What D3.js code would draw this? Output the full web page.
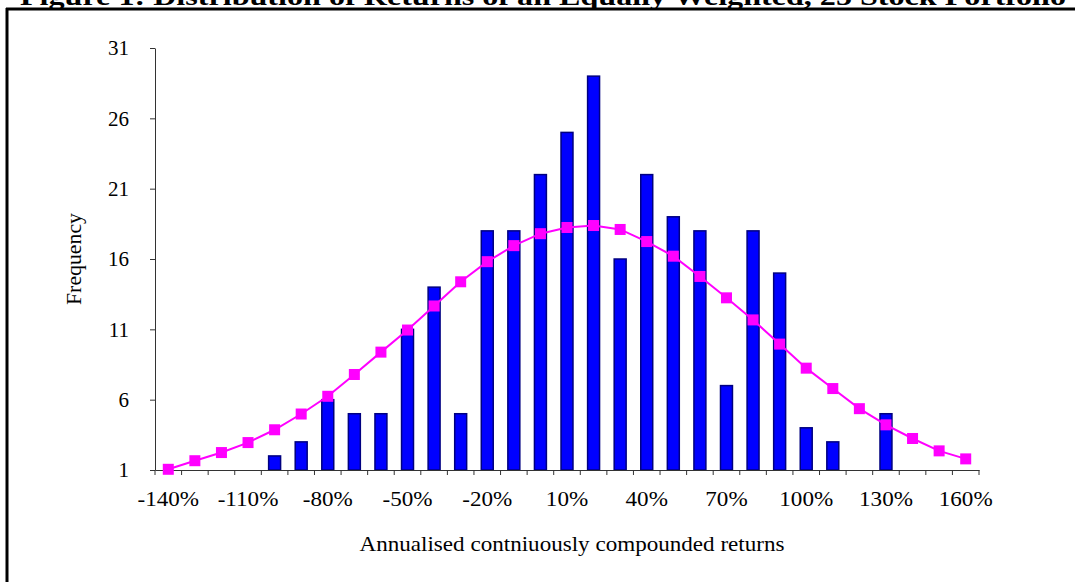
<!DOCTYPE html>
<html>
<head>
<meta charset="utf-8">
<script src="https://cdn.jsdelivr.net/npm/d3@7"></script>
<style>
  body { margin: 0; background: #fff; }
  svg { display: block; font-family: "Liberation Serif", "Times New Roman", serif; }
</style>
</head>
<body>
<svg id="chart" width="1075" height="582"></svg>
<script>
// returns buckets, -140% .. 160% in steps of 10
const returns = d3.range(-140, 161, 10);
// observed frequency per bucket
const observed = [0, 0, 0, 0, 2, 3, 6, 5, 5, 11, 14, 5, 18, 18, 22, 25, 29, 16, 22, 19,
                  18, 7, 18, 15, 4, 3, 0, 5, 0, 0, 0];
// fitted normal frequency per bucket
const fitted = [1.05, 1.66, 2.24, 2.95, 3.86, 4.98, 6.24, 7.79, 9.38, 10.95, 12.66, 14.38,
                15.81, 16.95, 17.8, 18.24, 18.38, 18.1, 17.24, 16.2, 14.76, 13.24, 11.67,
                9.95, 8.24, 6.79, 5.36, 4.21, 3.24, 2.36, 1.79];
const yTicks = [1, 6, 11, 16, 21, 26, 31];
const xLabels = [-140, -110, -80, -50, -20, 10, 40, 70, 100, 130, 160];

const svg = d3.select('#chart');

const plotLeft = 155, plotRight = 979, plotTop = 48, plotBottom = 470;

let x = d3.scaleBand()
  .domain(returns)
  .range([plotLeft, plotRight])
  .paddingInner(0.55)
  .paddingOuter(0.275);

let y = d3.scaleLinear()
  .domain([1, 31])
  .range([plotBottom, plotTop]);

// frame: title rule and left edge
svg.append('line')
  .attr('x1', 6).attr('x2', 1075).attr('y1', 9).attr('y2', 9)
  .attr('stroke', '#000').attr('stroke-width', 3);
svg.append('line')
  .attr('x1', 7).attr('x2', 7).attr('y1', 8).attr('y2', 582)
  .attr('stroke', '#000').attr('stroke-width', 3);

// title, mostly cut off by the top of the page
svg.append('text')
  .attr('x', 20).attr('y', 5)
  .attr('font-size', 26)
  .attr('font-weight', 'bold')
  .attr('textLength', 1046)
  .attr('lengthAdjust', 'spacingAndGlyphs')
  .text('Figure 1: Distribution of Returns of an Equally Weighted, 25 Stock Portfolio');

// bars
svg.append('g').selectAll('rect').data(returns).enter()
  .append('rect')
    .attr('x', d => x(d))
    .attr('width', x.bandwidth())
    .attr('y', (d, i) => y(Math.max(observed[i], 1)))
    .attr('height', (d, i) => y(1) - y(Math.max(observed[i], 1)))
    .attr('fill', '#0000ff')
    .attr('stroke', '#000080')
    .attr('stroke-width', 1.5);

// y axis
let yAxis = svg.append('g')
  .attr('transform', `translate(${plotLeft},0)`)
  .call(d3.axisLeft(y).tickValues(yTicks).tickSize(5).tickSizeOuter(0).tickPadding(21));

// x axis: line, boundary ticks, every third label
let xAxis = svg.append('g')
  .attr('transform', `translate(0,${plotBottom})`)
  .call(d3.axisBottom(x).tickValues(xLabels).tickSize(0).tickSizeOuter(0).tickPadding(21)
    .tickFormat(d => d + '%'));

xAxis.selectAll('.boundary')
  .data(d3.range(returns.length + 1))
  .enter().append('line')
    .attr('class', 'boundary')
    .attr('x1', i => plotLeft + i * x.step())
    .attr('x2', i => plotLeft + i * x.step())
    .attr('y1', 0).attr('y2', 5)
    .attr('stroke', '#333');

[yAxis, xAxis].forEach(function(a) {
  a.select('.domain').attr('stroke', '#333');
  a.selectAll('.tick line').attr('stroke', '#333');
  a.selectAll('text')
    .attr('font-family', '"Liberation Serif", "Times New Roman", serif')
    .attr('font-size', 21)
    .attr('fill', '#000');
});

// x labels are a little wider in the original
xAxis.selectAll('.tick text').each(function() {
  let len = this.getComputedTextLength();
  d3.select(this)
    .attr('textLength', len * 1.1)
    .attr('lengthAdjust', 'spacingAndGlyphs');
});

// fitted line with square markers
let cx = d => x(d) + x.bandwidth() / 2;
let line = d3.line()
  .x(d => cx(d))
  .y((d, i) => y(fitted[i]));

svg.append('path')
  .datum(returns)
  .attr('d', line)
  .attr('fill', 'none')
  .attr('stroke', '#ff00ff')
  .attr('stroke-width', 2);

svg.append('g').selectAll('rect').data(returns).enter()
  .append('rect')
    .attr('x', d => cx(d) - 5.5)
    .attr('y', (d, i) => y(fitted[i]) - 5.5)
    .attr('width', 11)
    .attr('height', 11)
    .attr('fill', '#ff00ff');

// axis titles
svg.append('text')
  .attr('x', 572).attr('y', 551)
  .attr('text-anchor', 'middle')
  .attr('font-size', 21)
  .attr('textLength', 425)
  .attr('lengthAdjust', 'spacingAndGlyphs')
  .text('Annualised contniuously compounded returns');

svg.append('text')
  .attr('transform', 'translate(81,259) rotate(-90)')
  .attr('text-anchor', 'middle')
  .attr('font-size', 21)
  .attr('textLength', 92)
  .attr('lengthAdjust', 'spacingAndGlyphs')
  .text('Frequency');
</script>
</body>
</html>
